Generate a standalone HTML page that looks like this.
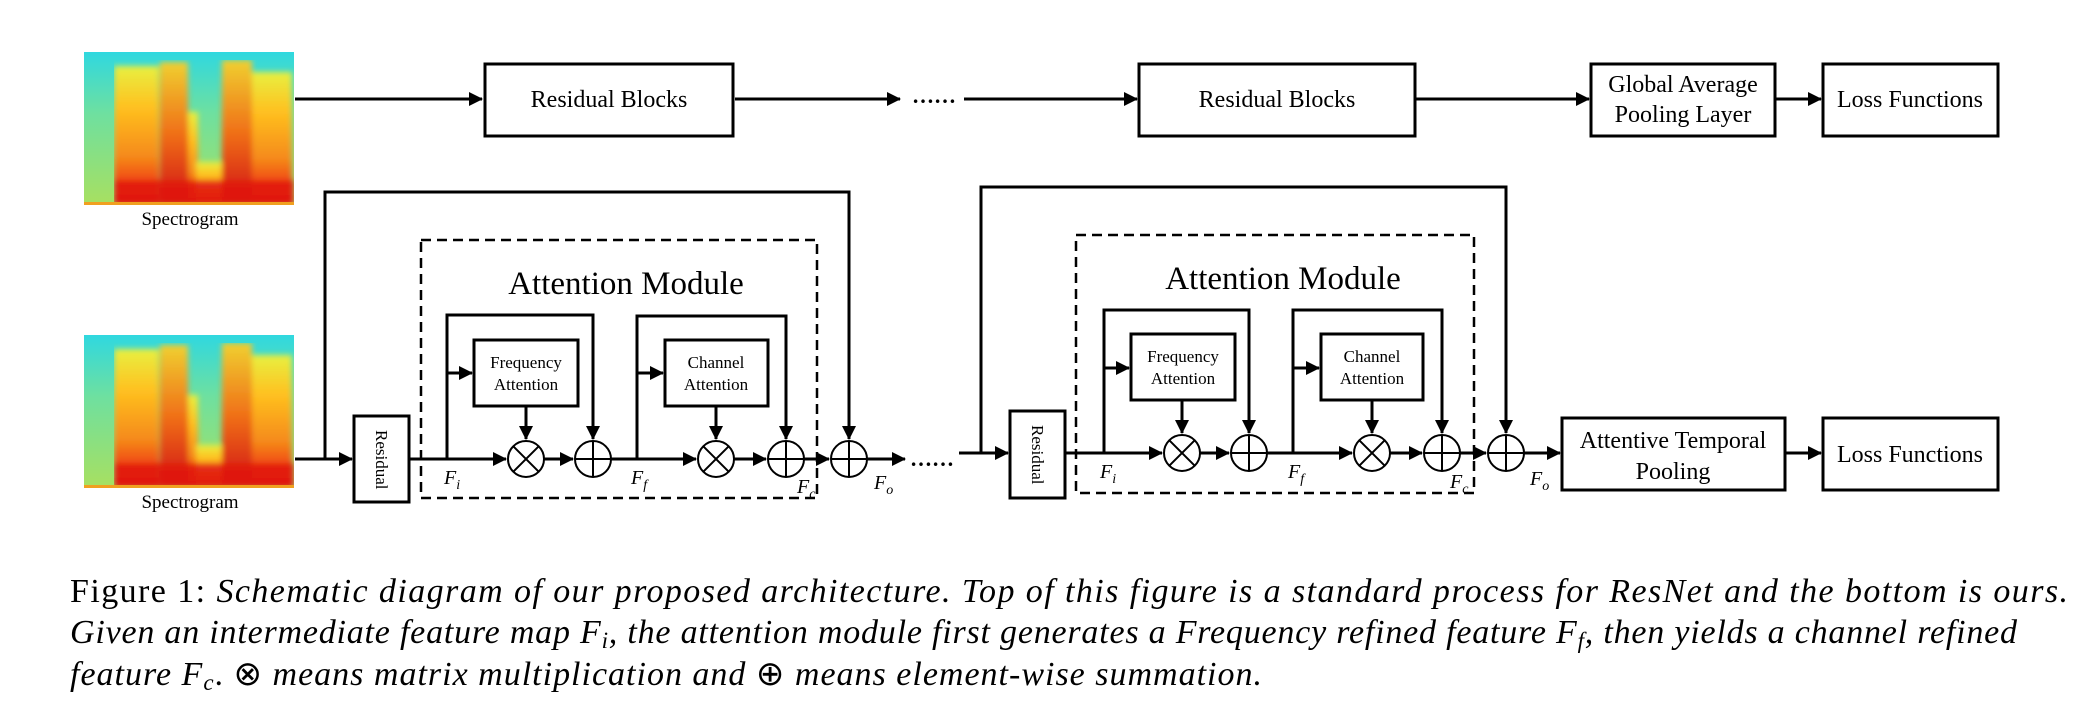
<!DOCTYPE html>
<html><head><meta charset="utf-8"><style>
html,body{margin:0;padding:0;background:#fff;}
svg{display:block;}
text{font-family:"Liberation Serif",serif;fill:#000;}
</style></head><body>
<svg width="2095" height="728" viewBox="0 0 2095 728" xmlns="http://www.w3.org/2000/svg">
<defs>
<filter id="bl" x="0" y="0" width="1" height="1"><feGaussianBlur stdDeviation="3"/></filter>
<clipPath id="sc"><rect x="0" y="0" width="210" height="153"/></clipPath>
<linearGradient id="bg" x1="0" y1="0" x2="0" y2="1">
<stop offset="0" stop-color="#2fd8e0"/><stop offset="0.4" stop-color="#6ee0a0"/><stop offset="1" stop-color="#a8e060"/>
</linearGradient>
<linearGradient id="warm" x1="0" y1="0" x2="0" y2="1">
<stop offset="0" stop-color="#e8f040"/><stop offset="0.3" stop-color="#ffc020"/><stop offset="0.65" stop-color="#f58a1a"/><stop offset="0.85" stop-color="#f04010"/><stop offset="1" stop-color="#d81010"/>
</linearGradient>
<linearGradient id="hot" x1="0" y1="0" x2="0" y2="1">
<stop offset="0" stop-color="#f0d030"/><stop offset="0.5" stop-color="#f07018"/><stop offset="1" stop-color="#d01010"/>
</linearGradient>
<g id="spec">
<g clip-path="url(#sc)">
<rect x="0" y="0" width="210" height="153" fill="url(#bg)"/>
<g filter="url(#bl)">
<rect x="30" y="14" width="45" height="139" fill="url(#warm)"/>
<rect x="76" y="10" width="28" height="143" fill="url(#hot)"/>
<rect x="104" y="60" width="10" height="93" fill="url(#warm)"/>
<rect x="112" y="110" width="30" height="43" fill="url(#warm)"/>
<rect x="138" y="8" width="30" height="145" fill="url(#hot)"/>
<rect x="168" y="20" width="40" height="133" fill="url(#warm)"/>
<rect x="30" y="128" width="180" height="25" fill="#e01810" opacity="0.85"/>
</g>
<rect x="0" y="150" width="210" height="3" fill="#f0a020"/>
</g>
</g>
<marker id="ah" markerWidth="14" markerHeight="14" refX="13" refY="7" orient="auto" markerUnits="userSpaceOnUse">
<path d="M0,0 L14,7 L0,14 Z" fill="#000"/>
</marker>
<g id="ot"><circle r="18" fill="#fff" stroke="#000" stroke-width="2"/><path d="M-12.7,-12.7 L12.7,12.7 M-12.7,12.7 L12.7,-12.7" stroke="#000" stroke-width="2"/></g>
<g id="op"><circle r="18" fill="#fff" stroke="#000" stroke-width="2"/><path d="M-18,0 L18,0 M0,-18 L0,18" stroke="#000" stroke-width="2"/></g>
</defs>

<use href="#spec" x="84" y="52"/>
<use href="#spec" x="84" y="335"/>
<text x="190" y="225" font-size="19" text-anchor="middle">Spectrogram</text>
<text x="190" y="508" font-size="19" text-anchor="middle">Spectrogram</text>

<g stroke="#000" stroke-width="3" fill="none">
<line x1="295" y1="99" x2="482" y2="99" marker-end="url(#ah)"/>
<rect x="485" y="64" width="248" height="72" fill="#fff"/>
<line x1="735" y1="99" x2="900" y2="99" marker-end="url(#ah)"/>
<line x1="964" y1="99" x2="1137" y2="99" marker-end="url(#ah)"/>
<rect x="1139" y="64" width="276" height="72" fill="#fff"/>
<line x1="1415" y1="99" x2="1589" y2="99" marker-end="url(#ah)"/>
<rect x="1591" y="64" width="184" height="72" fill="#fff"/>
<line x1="1775" y1="99" x2="1821" y2="99" marker-end="url(#ah)"/>
<rect x="1823" y="64" width="175" height="72" fill="#fff"/>

<line x1="295" y1="459" x2="352" y2="459" marker-end="url(#ah)"/>
<polyline points="325,459 325,192 849,192 849,439" marker-end="url(#ah)"/>
<rect x="354" y="416" width="55" height="86" fill="#fff"/>
<line x1="409" y1="459" x2="506" y2="459" marker-end="url(#ah)"/>
<polyline points="447,459 447,315 593,315 593,439" marker-end="url(#ah)"/>
<line x1="447" y1="373" x2="472" y2="373" marker-end="url(#ah)"/>
<rect x="474" y="340" width="104" height="66" fill="#fff"/>
<line x1="526" y1="406" x2="526" y2="439" marker-end="url(#ah)"/>
<line x1="544" y1="459" x2="573" y2="459" marker-end="url(#ah)"/>
<line x1="611" y1="459" x2="696" y2="459" marker-end="url(#ah)"/>
<polyline points="637,459 637,316 786,316 786,439" marker-end="url(#ah)"/>
<line x1="637" y1="373" x2="663" y2="373" marker-end="url(#ah)"/>
<rect x="665" y="340" width="103" height="66" fill="#fff"/>
<line x1="716" y1="406" x2="716" y2="439" marker-end="url(#ah)"/>
<line x1="734" y1="459" x2="766" y2="459" marker-end="url(#ah)"/>
<line x1="804" y1="459" x2="829" y2="459" marker-end="url(#ah)"/>
<line x1="867" y1="459" x2="905" y2="459" marker-end="url(#ah)"/>
<rect x="421" y="240" width="396" height="258" stroke-width="2.5" stroke-dasharray="10,6"/>

<line x1="959" y1="453" x2="1008" y2="453" marker-end="url(#ah)"/>
<polyline points="981,453 981,187 1506,187 1506,433" marker-end="url(#ah)"/>
<rect x="1010" y="411" width="55" height="87" fill="#fff"/>
<line x1="1065" y1="453" x2="1162" y2="453" marker-end="url(#ah)"/>
<polyline points="1104,453 1104,310 1249,310 1249,433" marker-end="url(#ah)"/>
<line x1="1104" y1="368" x2="1129" y2="368" marker-end="url(#ah)"/>
<rect x="1131" y="334" width="104" height="66" fill="#fff"/>
<line x1="1182" y1="400" x2="1182" y2="433" marker-end="url(#ah)"/>
<line x1="1200" y1="453" x2="1229" y2="453" marker-end="url(#ah)"/>
<line x1="1267" y1="453" x2="1352" y2="453" marker-end="url(#ah)"/>
<polyline points="1293,453 1293,310 1442,310 1442,433" marker-end="url(#ah)"/>
<line x1="1293" y1="368" x2="1319" y2="368" marker-end="url(#ah)"/>
<rect x="1321" y="334" width="102" height="66" fill="#fff"/>
<line x1="1372" y1="400" x2="1372" y2="433" marker-end="url(#ah)"/>
<line x1="1390" y1="453" x2="1422" y2="453" marker-end="url(#ah)"/>
<line x1="1460" y1="453" x2="1486" y2="453" marker-end="url(#ah)"/>
<line x1="1524" y1="453" x2="1560" y2="453" marker-end="url(#ah)"/>
<rect x="1076" y="235" width="398" height="258" stroke-width="2.5" stroke-dasharray="10,6"/>
<rect x="1562" y="418" width="223" height="72" fill="#fff"/>
<line x1="1785" y1="453" x2="1821" y2="453" marker-end="url(#ah)"/>
<rect x="1823" y="418" width="175" height="72" fill="#fff"/>
</g>

<use href="#ot" x="526" y="459"/><use href="#op" x="593" y="459"/>
<use href="#ot" x="716" y="459"/><use href="#op" x="786" y="459"/>
<use href="#op" x="849" y="459"/>
<use href="#ot" x="1182" y="453"/><use href="#op" x="1249" y="453"/>
<use href="#ot" x="1372" y="453"/><use href="#op" x="1442" y="453"/>
<use href="#op" x="1506" y="453"/>

<text x="912" y="103" font-size="22" font-weight="bold">……</text>
<text x="910" y="466" font-size="22" font-weight="bold">……</text>

<g font-size="24" text-anchor="middle">
<text x="609" y="107">Residual Blocks</text>
<text x="1277" y="107">Residual Blocks</text>
<text x="1683" y="92">Global Average</text>
<text x="1683" y="122">Pooling Layer</text>
<text x="1910" y="107">Loss Functions</text>
<text x="1673" y="448">Attentive Temporal</text>
<text x="1673" y="479">Pooling</text>
<text x="1910" y="462">Loss Functions</text>
</g>
<g font-size="33" text-anchor="middle">
<text x="626" y="294">Attention Module</text>
<text x="1283" y="289">Attention Module</text>
</g>
<g font-size="17" text-anchor="middle">
<text x="526" y="368">Frequency</text><text x="526" y="390">Attention</text>
<text x="716" y="368">Channel</text><text x="716" y="390">Attention</text>
<text x="1183" y="362">Frequency</text><text x="1183" y="384">Attention</text>
<text x="1372" y="362">Channel</text><text x="1372" y="384">Attention</text>
</g>
<text font-size="17" transform="translate(376,430) rotate(90)">Residual</text>
<text font-size="17" transform="translate(1032,425) rotate(90)">Residual</text>

<g font-size="20" font-style="italic">
<text x="444" y="484">F<tspan font-size="14" dy="5">i</tspan></text>
<text x="631" y="484">F<tspan font-size="14" dy="5">f</tspan></text>
<text x="797" y="493">F<tspan font-size="14" dy="5">c</tspan></text>
<text x="874" y="489">F<tspan font-size="14" dy="5">o</tspan></text>
<text x="1100" y="478">F<tspan font-size="14" dy="5">i</tspan></text>
<text x="1288" y="478">F<tspan font-size="14" dy="5">f</tspan></text>
<text x="1450" y="488">F<tspan font-size="14" dy="5">c</tspan></text>
<text x="1530" y="485">F<tspan font-size="14" dy="5">o</tspan></text>
</g>

<g font-size="34">
<text x="70" y="602" textLength="1998" lengthAdjust="spacing">Figure 1: <tspan font-style="italic">Schematic diagram of our proposed architecture. Top of this figure is a standard process for ResNet and the bottom is ours.</tspan></text>
<text x="70" y="643" textLength="1947" lengthAdjust="spacing" font-style="italic">Given an intermediate feature map F<tspan font-size="23" dy="5">i</tspan><tspan dy="-5">, the attention module first generates a Frequency refined feature F</tspan><tspan font-size="23" dy="5">f</tspan><tspan dy="-5">, then yields a channel refined</tspan></text>
<text x="70" y="685" textLength="1192" lengthAdjust="spacing" font-style="italic">feature F<tspan font-size="23" dy="5">c</tspan><tspan dy="-5" font-style="normal">. ⊗ </tspan>means matrix multiplication and <tspan font-style="normal">⊕</tspan> means element-wise summation.</text>
</g>
</svg>
</body></html>
